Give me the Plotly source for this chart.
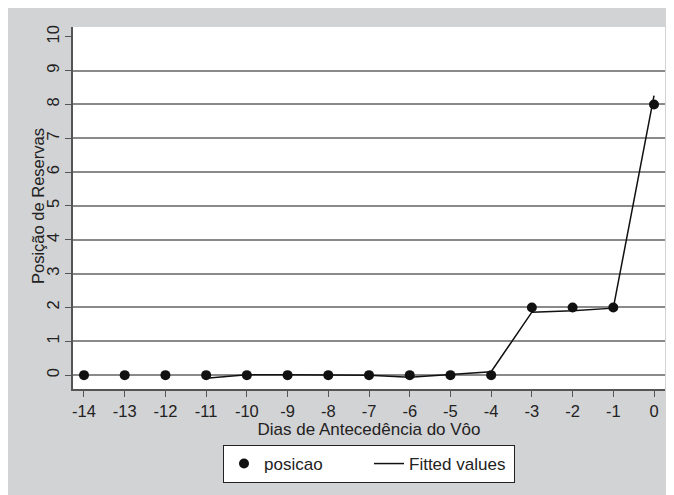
import plotly.graph_objects as go

dias = [-14, -13, -12, -11, -10, -9, -8, -7, -6, -5, -4, -3, -2, -1, 0]
posicao = [0, 0, 0, 0, 0, 0, 0, 0, 0, 0, 0, 2, 2, 2, 8]
fit_x = [-11, -10, -9, -8, -7, -6, -5, -4, -3, -2, -1, 0]
fit_y = [-0.09, 0.01, 0.01, 0.0, 0.0, -0.06, 0.01, 0.1, 1.86, 1.9, 1.98, 8.26]
x_ticks = list(range(-14, 1))
x_labels = ["-14", "-13", "-12", "-11", "-10", "-9", "-8", "-7", "-6", "-5", "-4", "-3", "-2", "-1", "0"]
y_ticks = list(range(0, 11))
y_grid = list(range(0, 10))

GRAY = "#d2d3d5"
FONT = "Liberation Sans, Arial, sans-serif"

fig = go.Figure()
fig.add_trace(go.Scatter(x=dias, y=posicao, mode="markers", name="posicao",
                         marker=dict(color="#111111", size=10)))
fig.add_trace(go.Scatter(x=fit_x, y=fit_y, mode="lines", name="Fitted values",
                         line=dict(color="#111111", width=1.5)))

# page has an 8px body margin which acts as the white border
OFF = 8
W, H = 674 - OFF, 495 - OFF
L, T = 73 - OFF, 27 - OFF
R = 674 - 665
B = 495 - 389
pw, ph = W - L - R, H - T - B

fig.update_layout(
    width=W, height=H,
    margin=dict(l=L, r=R, t=T, b=B, autoexpand=False),
    paper_bgcolor=GRAY, plot_bgcolor="white",
    font=dict(family=FONT, size=17, color="#222222"),
    showlegend=True,
    legend=dict(orientation="h", x=0.5, xanchor="center", y=(389 - 445) / ph, yanchor="top",
                bgcolor="white", bordercolor="#222222", borderwidth=1,
                font=dict(size=17), tracegroupgap=0,
                entrywidth=100, entrywidthmode="pixels"),
    xaxis=dict(range=[-14.27, 0.27], tickvals=x_ticks, ticktext=x_labels,
               ticks="outside", ticklen=6,
               tickcolor="#555555", showline=True, linecolor="#555555", linewidth=1.5,
               showgrid=False, zeroline=False,
               title=dict(text="Dias de Antecedência do Vôo", standoff=1, font=dict(size=17)),
               tickfont=dict(size=16.5)),
    yaxis=dict(range=[-0.41, 10.29], tickvals=y_ticks, ticks="outside", ticklen=6,
               tickcolor="#555555", showline=True, linecolor="#555555", linewidth=1.5,
               showgrid=False, zeroline=False, tickangle=-90,
               tickfont=dict(size=16.5),
               minor=dict(tickmode="array", tickvals=y_grid, showgrid=True,
                          gridcolor="#8a8a8a", gridwidth=1.5, ticks="")),
    annotations=[dict(text="Posição de Reservas", xref="paper", yref="paper",
                      x=(38 - 73) / pw, y=(389 - 206) / ph, xanchor="center", yanchor="middle",
                      textangle=-90, showarrow=False, font=dict(size=16.5))],
)
fig.write_html("out.html")
